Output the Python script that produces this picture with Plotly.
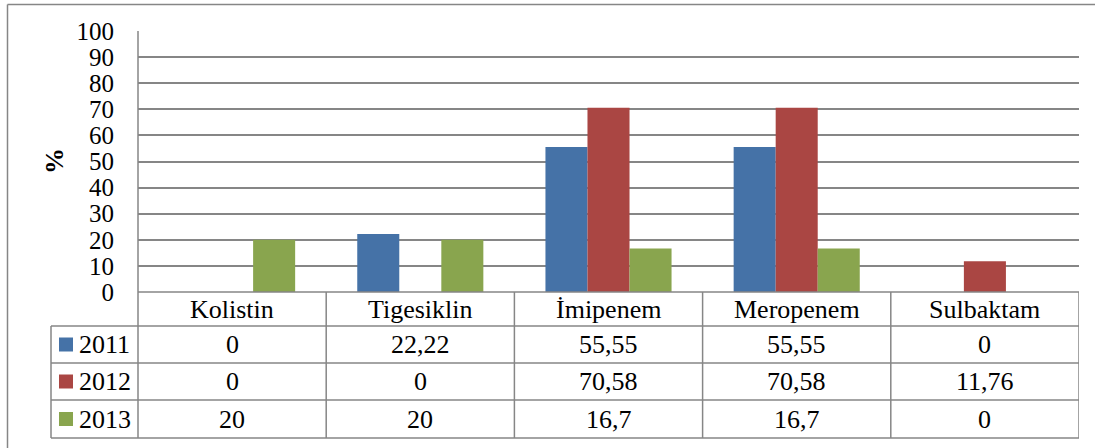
import plotly.graph_objects as go

# Resistance rates (%) by antibiotic and year
categories = ["Kolistin", "Tigesiklin", "İmipenem", "Meropenem", "Sulbaktam"]
years = ["2011", "2012", "2013"]
values_2011 = [0, 22.22, 55.55, 55.55, 0]
values_2012 = [0, 0, 70.58, 70.58, 11.76]
values_2013 = [20, 20, 16.7, 16.7, 0]
y_ticks = [0, 10, 20, 30, 40, 50, 60, 70, 80, 90, 100]

series = [values_2011, values_2012, values_2013]
colors = ["#4572A7", "#AA4643", "#89A54E"]

W, H = 1095, 448
FONT = "Liberation Serif"
FS = 26
TICK_FS = 25
GRID = "#868686"


def px(x):
    return x / W


def py(y):
    return 1 - y / H


def fmt(v):
    return f"{v:g}".replace(".", ",")


# plot area in pixels
PL, PR, PT, PB = 138, 1079, 31, 292
# data table rows (pixel y of row borders)
ROWS = [292, 326, 363, 400, 438]
LEG_X = 51

fig = go.Figure()
for name, vals, col in zip(years, series, colors):
    fig.add_trace(go.Bar(x=categories, y=vals, name=name, marker_color=col,
                         marker_line_width=0, showlegend=False))

shapes = []
annotations = []


def hline(x0, x1, y, xref="paper"):
    shapes.append(dict(type="line", xref=xref, yref="paper",
                       x0=x0, x1=x1, y0=py(y), y1=py(y),
                       line=dict(color=GRID, width=1.5)))


def vline(x, y0, y1, xref="paper"):
    shapes.append(dict(type="line", xref=xref, yref="paper",
                       x0=x, x1=x, y0=py(y0), y1=py(y1),
                       line=dict(color=GRID, width=1.5)))


# outer chart frame (top and left edges lie inside the page)
hline(px(7.5), 1, 4.5)
vline(px(7.5), 4.5, H)

# table horizontal lines
for i, ry in enumerate(ROWS):
    hline(px(PL if i == 0 else LEG_X), px(PR), ry)
# left axis / table edge
vline(px(PL), PT, ROWS[-1])
# legend column left edge
vline(px(LEG_X), ROWS[1], ROWS[-1])
# category dividers in the table
for k in range(1, len(categories) + 1):
    vline(k - 0.5, ROWS[0], ROWS[-1], xref="x")

# header row: category names
hc = (ROWS[0] + ROWS[1]) / 2
for c in categories:
    annotations.append(dict(x=c, xref="x", y=py(hc), yref="paper", text=c,
                            showarrow=False, yanchor="middle",
                            font=dict(family=FONT, size=FS, color="black")))

# value rows with legend keys
for r, (name, vals, col) in enumerate(zip(years, series, colors)):
    top, bot = ROWS[r + 1], ROWS[r + 2]
    cy = (top + bot) / 2
    for c, v in zip(categories, vals):
        annotations.append(dict(x=c, xref="x", y=py(cy), yref="paper", text=fmt(v),
                                showarrow=False, yanchor="middle",
                                font=dict(family=FONT, size=FS, color="black")))
    shapes.append(dict(type="rect", xref="paper", yref="paper",
                       x0=px(59), x1=px(73), y0=py(cy - 7), y1=py(cy + 7),
                       fillcolor=col, line=dict(width=0)))
    annotations.append(dict(x=px(77), xref="paper", y=py(cy), yref="paper", text=name,
                            showarrow=False, xanchor="left", yanchor="middle",
                            font=dict(family=FONT, size=FS, color="black")))

# y axis title
annotations.append(dict(x=px(54), xref="paper", y=py(161), yref="paper", text="<b>%</b>",
                        showarrow=False, textangle=-90, xanchor="center", yanchor="middle",
                        font=dict(family=FONT, size=FS, color="black")))

fig.update_layout(
    width=W, height=H, autosize=False,
    margin=dict(l=0, r=0, t=0, b=0, pad=0),
    paper_bgcolor="white", plot_bgcolor="white",
    barmode="group", bargap=0.33, bargroupgap=0,
    xaxis=dict(domain=[px(PL), px(PR)], showticklabels=False, showgrid=False,
               zeroline=False, showline=False, automargin=False,
               range=[-0.5, len(categories) - 0.5]),
    yaxis=dict(domain=[py(PB), py(PT)], range=[0, 100], tickvals=y_ticks,
               showgrid=True, gridcolor=GRID, gridwidth=1.5, zeroline=False,
               showline=False, ticks="", ticklabelstandoff=23, automargin=False,
               tickfont=dict(family=FONT, size=TICK_FS, color="black")),
    shapes=shapes, annotations=annotations,
)

fig.write_html("out.html")
